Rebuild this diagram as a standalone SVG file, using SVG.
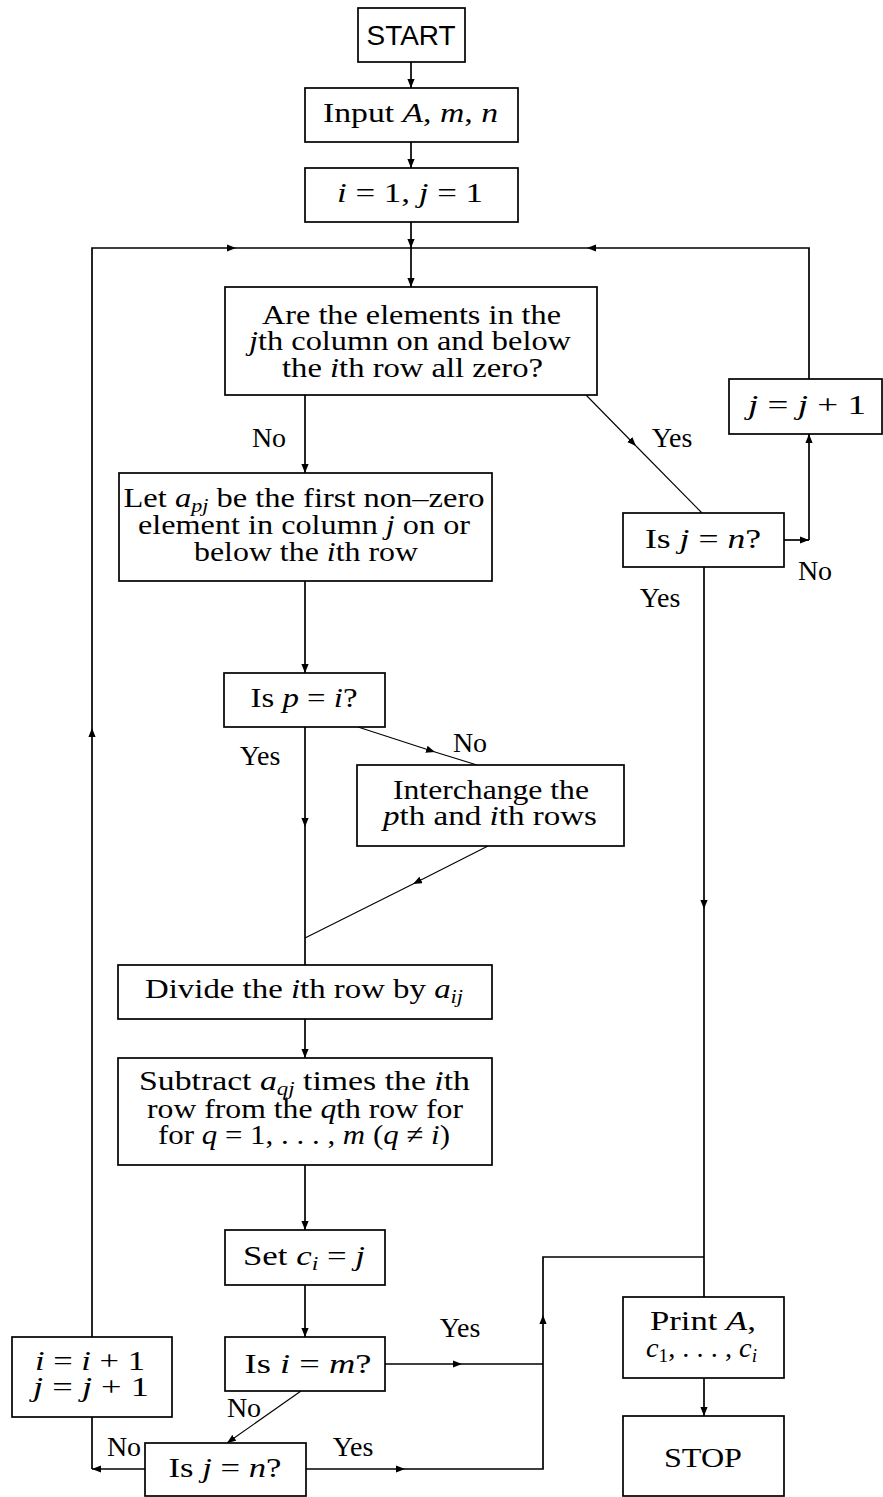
<svg xmlns="http://www.w3.org/2000/svg" width="883" height="1497" viewBox="0 0 883 1497">
<style>
.box{fill:#fff;stroke:#000;stroke-width:1.7}
.t{font-family:"Liberation Serif","Times New Roman",serif;font-size:28px;fill:#000;text-anchor:middle}
.s{font-family:"Liberation Sans",Arial,sans-serif;font-size:27px;fill:#000;text-anchor:middle}
.i{font-style:italic}
.c{fill:none;stroke:#000;stroke-width:1.7}
.d{fill:none;stroke:#000;stroke-width:1.1}
</style>
<defs>
<marker id="ah" viewBox="0 0 10 8" refX="10" refY="4" markerWidth="9" markerHeight="7.5" markerUnits="userSpaceOnUse" orient="auto">
<path d="M0,0 L10,4 L0,8 z" fill="#000"/>
</marker>
</defs>
<rect width="883" height="1497" fill="#fff"/>
<g id="connectors">
<path class="c" d="M411,62 V88" marker-end="url(#ah)"/>
<path class="c" d="M411,142 V168" marker-end="url(#ah)"/>
<path class="c" d="M411,222 V248" marker-end="url(#ah)"/>
<path class="c" d="M411,248 V287" marker-end="url(#ah)"/>
<path class="c" d="M92,1337 V728" marker-end="url(#ah)"/>
<path class="c" d="M92,728 V248 H236" marker-end="url(#ah)"/>
<path class="c" d="M236,248 H411"/>
<path class="c" d="M809,379 V248 H587" marker-end="url(#ah)"/>
<path class="c" d="M587,248 H411"/>
<path class="c" d="M305,395 V473" marker-end="url(#ah)"/>
<path class="d" d="M586,395 L636,446" marker-end="url(#ah)"/>
<path class="d" d="M636,446 L702,513"/>
<path class="c" d="M784,540 H809" marker-end="url(#ah)"/>
<path class="c" d="M809,540 V434" marker-end="url(#ah)"/>
<path class="c" d="M704,567 V909" marker-end="url(#ah)"/>
<path class="c" d="M704,909 V1297"/>
<path class="c" d="M305,581 V673" marker-end="url(#ah)"/>
<path class="d" d="M358,727 L435,752" marker-end="url(#ah)"/>
<path class="d" d="M435,752 L477,765"/>
<path class="c" d="M305,727 V827" marker-end="url(#ah)"/>
<path class="c" d="M305,827 V965"/>
<path class="d" d="M488,846 L413,884" marker-end="url(#ah)"/>
<path class="d" d="M413,884 L305,938"/>
<path class="c" d="M305,1019 V1058" marker-end="url(#ah)"/>
<path class="c" d="M305,1165 V1230" marker-end="url(#ah)"/>
<path class="c" d="M305,1285 V1337" marker-end="url(#ah)"/>
<path class="c" d="M385,1364 H462" marker-end="url(#ah)"/>
<path class="c" d="M462,1364 H543"/>
<path class="d" d="M301,1391 L227,1443" marker-end="url(#ah)"/>
<path class="c" d="M306,1469 H405" marker-end="url(#ah)"/>
<path class="c" d="M405,1469 H543 V1315" marker-end="url(#ah)"/>
<path class="c" d="M543,1315 V1257 H704"/>
<path class="c" d="M145,1469 H92" marker-end="url(#ah)"/>
<path class="c" d="M92,1469 V1417"/>
<path class="c" d="M704,1378 V1416" marker-end="url(#ah)"/>
<text class="t" x="269" y="447">No</text>
<text class="t" x="672" y="447">Yes</text>
<text class="t" x="815" y="580">No</text>
<text class="t" x="660" y="607">Yes</text>
<text class="t" x="260" y="765">Yes</text>
<text class="t" x="470" y="752">No</text>
<text class="t" x="460" y="1337">Yes</text>
<text class="t" x="244" y="1417">No</text>
<text class="t" x="124" y="1456">No</text>
<text class="t" x="353" y="1456">Yes</text>
</g>
<g id="start">
<rect class="box" x="358" y="8" width="107" height="54"/>
<text class="s" x="411" y="45" textLength="89" lengthAdjust="spacingAndGlyphs">START</text>
</g>
<g id="input">
<rect class="box" x="305" y="88" width="213" height="54"/>
<text class="t" x="410.5" y="122" textLength="175" lengthAdjust="spacingAndGlyphs">Input <tspan class="i">A</tspan>, <tspan class="i">m</tspan>, <tspan class="i">n</tspan></text>
</g>
<g id="init">
<rect class="box" x="305" y="168" width="213" height="54"/>
<text class="t" x="410" y="202" textLength="146" lengthAdjust="spacingAndGlyphs"><tspan class="i">i</tspan> = 1, <tspan class="i">j</tspan> = 1</text>
</g>
<g id="zerotest">
<rect class="box" x="225" y="287" width="372" height="108"/>
<text class="t" x="411.5" y="324" textLength="299" lengthAdjust="spacingAndGlyphs">Are the elements in the</text>
<text class="t" x="410" y="350" textLength="322" lengthAdjust="spacingAndGlyphs"><tspan class="i">j</tspan>th column on and below</text>
<text class="t" x="412.5" y="377" textLength="261" lengthAdjust="spacingAndGlyphs">the <tspan class="i">i</tspan>th row all zero?</text>
</g>
<g id="pivot">
<rect class="box" x="119" y="473" width="373" height="108"/>
<text class="t" x="304" y="507" textLength="361" lengthAdjust="spacingAndGlyphs">Let <tspan class="i">a</tspan><tspan class="i" font-size="19" dy="5">pj</tspan><tspan dy="-5"> be the first non–zero</tspan></text>
<text class="t" x="304" y="534" textLength="332" lengthAdjust="spacingAndGlyphs">element in column <tspan class="i">j</tspan> on or</text>
<text class="t" x="306" y="561" textLength="224" lengthAdjust="spacingAndGlyphs">below the <tspan class="i">i</tspan>th row</text>
</g>
<g id="jlast1">
<rect class="box" x="623" y="513" width="161" height="54"/>
<text class="t" x="703" y="548" textLength="116" lengthAdjust="spacingAndGlyphs">Is <tspan class="i">j</tspan> = <tspan class="i">n</tspan>?</text>
</g>
<g id="jinc">
<rect class="box" x="729" y="379" width="153" height="55"/>
<text class="t" x="807" y="414" textLength="118" lengthAdjust="spacingAndGlyphs"><tspan class="i">j</tspan> = <tspan class="i">j</tspan> + 1</text>
</g>
<g id="pisi">
<rect class="box" x="224" y="673" width="161" height="54"/>
<text class="t" x="304" y="707" textLength="107" lengthAdjust="spacingAndGlyphs">Is <tspan class="i">p</tspan> = <tspan class="i">i</tspan>?</text>
</g>
<g id="interchange">
<rect class="box" x="357" y="765" width="267" height="81"/>
<text class="t" x="491" y="799" textLength="196" lengthAdjust="spacingAndGlyphs">Interchange the</text>
<text class="t" x="490" y="825" textLength="214" lengthAdjust="spacingAndGlyphs"><tspan class="i">p</tspan>th and <tspan class="i">i</tspan>th rows</text>
</g>
<g id="divide">
<rect class="box" x="118" y="965" width="374" height="54"/>
<text class="t" x="304" y="998" textLength="318" lengthAdjust="spacingAndGlyphs">Divide the <tspan class="i">i</tspan>th row by <tspan class="i">a</tspan><tspan class="i" font-size="19" dy="5">ij</tspan></text>
</g>
<g id="subtract">
<rect class="box" x="118" y="1058" width="374" height="107"/>
<text class="t" x="304.5" y="1090" textLength="331" lengthAdjust="spacingAndGlyphs">Subtract <tspan class="i">a</tspan><tspan class="i" font-size="19" dy="5">qj</tspan><tspan dy="-5"> times the </tspan><tspan class="i">i</tspan>th</text>
<text class="t" x="305" y="1118" textLength="316" lengthAdjust="spacingAndGlyphs">row from the <tspan class="i">q</tspan>th row for</text>
<text class="t" x="304" y="1144" textLength="292" lengthAdjust="spacingAndGlyphs">for <tspan class="i">q</tspan> = 1, . . . , <tspan class="i">m</tspan> (<tspan class="i">q</tspan> ≠ <tspan class="i">i</tspan>)</text>
</g>
<g id="setc">
<rect class="box" x="225" y="1230" width="160" height="55"/>
<text class="t" x="304" y="1265" textLength="122" lengthAdjust="spacingAndGlyphs">Set <tspan class="i">c</tspan><tspan class="i" font-size="19" dy="5">i</tspan><tspan dy="-5"> = </tspan><tspan class="i">j</tspan></text>
</g>
<g id="isim">
<rect class="box" x="225" y="1337" width="160" height="54"/>
<text class="t" x="308" y="1373" textLength="127" lengthAdjust="spacingAndGlyphs">Is <tspan class="i">i</tspan> = <tspan class="i">m</tspan>?</text>
</g>
<g id="ijinc">
<rect class="box" x="12" y="1337" width="160" height="80"/>
<text class="t" x="90" y="1370" textLength="110" lengthAdjust="spacingAndGlyphs"><tspan class="i">i</tspan> = <tspan class="i">i</tspan> + 1</text>
<text class="t" x="91" y="1396" textLength="116" lengthAdjust="spacingAndGlyphs"><tspan class="i">j</tspan> = <tspan class="i">j</tspan> + 1</text>
</g>
<g id="jlast2">
<rect class="box" x="145" y="1443" width="161" height="53"/>
<text class="t" x="225" y="1477" textLength="113" lengthAdjust="spacingAndGlyphs">Is <tspan class="i">j</tspan> = <tspan class="i">n</tspan>?</text>
</g>
<g id="print">
<rect class="box" x="623" y="1297" width="161" height="81"/>
<text class="t" x="703" y="1330" textLength="106" lengthAdjust="spacingAndGlyphs">Print <tspan class="i">A</tspan>,</text>
<text class="t" x="701.5" y="1357" textLength="111" lengthAdjust="spacingAndGlyphs"><tspan class="i">c</tspan><tspan font-size="19" dy="5">1</tspan><tspan dy="-5">, . . . , </tspan><tspan class="i">c</tspan><tspan class="i" font-size="19" dy="5">i</tspan></text>
</g>
<g id="stop">
<rect class="box" x="623" y="1416" width="161" height="80"/>
<text class="t" x="703" y="1467" textLength="78" lengthAdjust="spacingAndGlyphs">STOP</text>
</g>
</svg>
